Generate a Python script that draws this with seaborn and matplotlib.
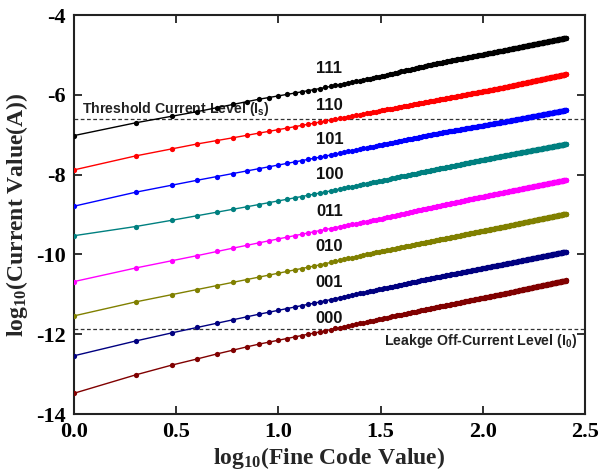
import numpy as np
import pandas as pd
import matplotlib
matplotlib.use("Agg")
import matplotlib.pyplot as plt
from matplotlib.font_manager import FontProperties
import seaborn as sns

# ---- data -------------------------------------------------------------
series_names = ["111", "110", "101", "100", "011", "010", "001", "000"]
series_colors = ["#000000", "#ff0000", "#0000ff", "#008080",
                 "#ff00ff", "#808000", "#000080", "#800000"]
# log10(current) read at the octave codes 1,2,4,...,256 of the fine code
anchor_codes = [1, 2, 4, 8, 16, 32, 64, 128, 256]
log_anchor_current = {
    "111": [-7.02, -6.70, -6.42, -6.11, -5.84, -5.53, -5.18, -4.88, -4.57],
    "110": [-7.88, -7.53, -7.23, -6.96, -6.68, -6.39, -6.10, -5.81, -5.48],
    "101": [-8.79, -8.44, -8.14, -7.85, -7.56, -7.25, -6.94, -6.67, -6.38],
    "100": [-9.53, -9.30, -9.03, -8.75, -8.46, -8.15, -7.83, -7.52, -7.23],
    "011": [-10.68, -10.34, -10.03, -9.71, -9.40, -9.10, -8.76, -8.44, -8.13],
    "010": [-11.54, -11.19, -10.88, -10.57, -10.26, -9.92, -9.61, -9.30, -8.98],
    "001": [-12.54, -12.17, -11.83, -11.50, -11.19, -10.86, -10.54, -10.24, -9.93],
    "000": [-13.48, -13.02, -12.62, -12.25, -11.94, -11.61, -11.29, -10.98, -10.65],
}
fine_codes = np.arange(1, 257)
threshold_level = -6.60
leakage_level = -11.87
label_x = 1.25
label_y = [-5.35, -6.26, -7.11, -8.00, -8.92, -9.81, -10.71, -11.60]
x_ticks = [0.0, 0.5, 1.0, 1.5, 2.0, 2.5]
y_ticks = [-14, -12, -10, -8, -6, -4]

# ---- build table: unary steps of equal size inside each octave ---------
rows = []
for name in series_names:
    anchors = 10.0 ** np.array(log_anchor_current[name])
    cur = anchors[0]
    rows.append({"series": name, "x": np.log10(fine_codes[0]), "y": np.log10(cur)})
    for k in range(len(anchor_codes) - 1):
        lo, hi = anchor_codes[k], anchor_codes[k + 1]
        step = (anchors[k + 1] - anchors[k]) / (hi - lo)
        for code in fine_codes[(fine_codes > lo) & (fine_codes <= hi)]:
            cur = cur + step
            rows.append({"series": name, "x": np.log10(code), "y": np.log10(cur)})
df = pd.DataFrame(rows)

# ---- style ------------------------------------------------------------
sns.set_style("ticks")
plt.rcParams["font.family"] = ["Liberation Serif", "DejaVu Serif"]
plt.rcParams["mathtext.fontset"] = "custom"
plt.rcParams["mathtext.rm"] = "Liberation Serif:bold"
plt.rcParams["mathtext.it"] = "Liberation Serif:bold"
plt.rcParams["mathtext.bf"] = "Liberation Serif:bold"

fig = plt.figure(figsize=(6.0, 4.73), dpi=100)
ax = fig.add_axes([0.1233, 0.1247, 0.8517, 0.8433])

sns.lineplot(data=df, x="x", y="y", hue="series", hue_order=series_names,
             palette=dict(zip(series_names, series_colors)),
             marker="o", markersize=3.8, markeredgewidth=0, linewidth=1.0,
             estimator=None, sort=False, legend=False, ax=ax, zorder=3)

ax.axhline(threshold_level, color="#333333", lw=0.9, ls=(0, (3, 2)), zorder=2)
ax.axhline(leakage_level, color="#333333", lw=0.9, ls=(0, (3, 2)), zorder=2)

label_font = FontProperties(family="Liberation Sans", weight="bold", size=12)
note_font = FontProperties(family="Liberation Sans", weight="bold", size=10.2)

for name, ly in zip(series_names, label_y):
    ax.text(label_x, ly, name, ha="center", va="center",
            fontproperties=label_font, color="#111111", zorder=4)

ax.text(0.04, -6.36, r"Threshold Current Level (I$_{\mathregular{s}}$)",
        ha="left", va="center", fontproperties=note_font, color="#222222",
        zorder=1)
ax.text(2.46, -12.17, r"Leakge Off-Current Level (I$_{\mathregular{0}}$)",
        ha="right", va="center", fontproperties=note_font, color="#222222",
        zorder=1)

ax.set_xlim(0, 2.5)
ax.set_ylim(-14, -4)
ax.set_xticks(x_ticks)
ax.set_yticks(y_ticks)
ax.set_xticklabels([f"{t:.1f}" for t in x_ticks])
ax.set_yticklabels([f"{t:d}" for t in y_ticks])
ax.tick_params(direction="in", length=6, width=1.3, top=True, right=True,
               labelsize=16, pad=6, colors="#222222", labelcolor="#000000")
for lab in ax.get_xticklabels() + ax.get_yticklabels():
    lab.set_fontweight("bold")
for sp in ax.spines.values():
    sp.set_linewidth(1.5)
    sp.set_color("#222222")
    sp.set_visible(True)

ax.set_xlabel(r"log$_{\mathregular{10}}$(Fine Code Value)", fontsize=17,
              fontweight="bold", labelpad=2)
ax.set_ylabel(r"log$_{\mathregular{10}}$(Current Value(A))", fontsize=17,
              fontweight="bold", labelpad=4)

fig.savefig("out.png", dpi=100)
